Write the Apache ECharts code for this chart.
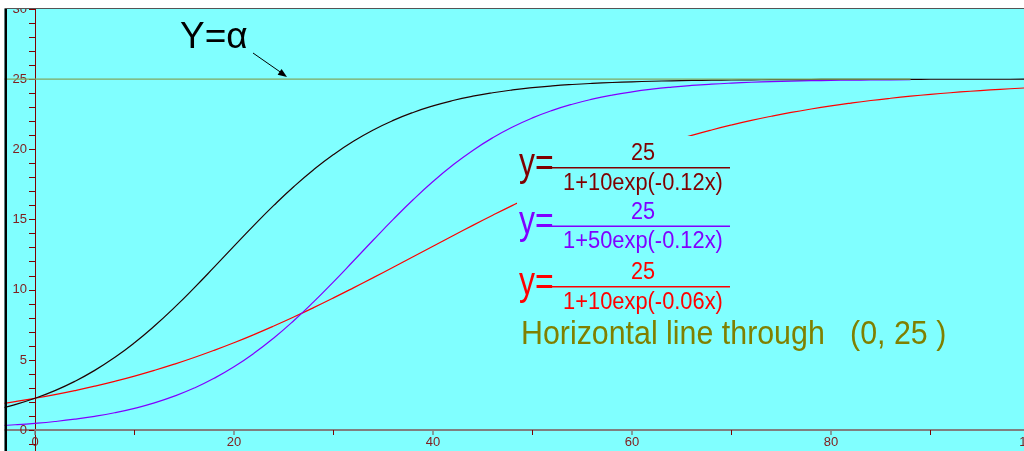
<!DOCTYPE html>
<html>
<head>
<meta charset="utf-8">
<script src="https://cdn.jsdelivr.net/npm/echarts@6/dist/echarts.min.js"></script>
<style>
html, body { margin: 0; padding: 0; background: #fff; }
#chart { width: 1024px; height: 451px; }
</style>
</head>
<body>
<div id="chart"></div>
<script>
// x positions of the sampled points
var xs = [-4, -2, 0, 2, 4, 6, 8, 10, 12, 14, 16, 18, 20, 22, 24, 26, 28, 30, 32, 34, 36, 38, 40,
  42, 44, 46, 48, 50, 52, 54, 56, 58, 60, 62, 64, 66, 68, 70, 72, 74, 76, 78, 80, 82, 84, 86, 88,
  90, 92, 94, 96, 98, 100];

// y = 25 / (1 + 10exp(-0.12x))
var blackCurve = [1.457, 1.823, 2.273, 2.820, 3.478, 4.261, 5.177, 6.231, 7.420, 8.730, 10.138,
  11.610, 13.108, 14.589, 16.012, 17.342, 18.555, 19.635, 20.577, 21.385, 22.065, 22.632, 23.099,
  23.480, 23.789, 24.037, 24.236, 24.395, 24.522, 24.622, 24.702, 24.765, 24.815, 24.854, 24.885,
  24.910, 24.929, 24.944, 24.956, 24.965, 24.973, 24.979, 24.983, 24.987, 24.990, 24.992, 24.994,
  24.995, 24.996, 24.997, 24.998, 24.998, 24.999];

// y = 25 / (1 + 50exp(-0.12x)), drawn up to x = 88
var purpleCurve = [0.306, 0.387, 0.490, 0.620, 0.783, 0.987, 1.241, 1.557, 1.946, 2.423, 3.001,
  3.695, 4.516, 5.473, 6.567, 7.794, 9.135, 10.566, 12.050, 13.547, 15.015, 16.414, 17.712,
  18.886, 19.927, 20.828, 21.597, 22.244, 22.779, 23.219, 23.577, 23.868, 24.100, 24.287, 24.435,
  24.554, 24.648, 24.722, 24.781, 24.827, 24.864, 24.893, 24.915, 24.933, 24.948, 24.959, 24.968];

// y = 25 / (1 + 10exp(-0.06x))
var redCurve = [1.823, 2.037, 2.273, 2.533, 2.820, 3.134, 3.478, 3.853, 4.261, 4.702, 5.177,
  5.687, 6.231, 6.809, 7.420, 8.061, 8.730, 9.423, 10.138, 10.868, 11.610, 12.359, 13.108,
  13.853, 14.589, 15.310, 16.012, 16.690, 17.342, 17.965, 18.555, 19.112, 19.635, 20.124, 20.577,
  20.998, 21.384, 21.739, 22.065, 22.361, 22.633, 22.877, 23.099, 23.299, 23.481, 23.643, 23.789,
  23.919, 24.036, 24.143, 24.236, 24.319, 24.395];

// horizontal line y = 25
var hLineX = [-4, 88];
var hLineY = [25, 25];

function pairs(xv, yv) {
  return yv.map(function (y, i) { return [xv[i], y]; });
}

var FONT = '"Liberation Sans", Arial, sans-serif';
var CYAN = '#80ffff';

var chart = echarts.init(document.getElementById('chart'), null, { renderer: 'canvas' });

function lineSeries(name, data, color, z) {
  return {
    name: name,
    type: 'line',
    data: data,
    showSymbol: false,
    symbol: 'none',
    smooth: true,
    z: z,
    lineStyle: { color: color, width: 1.2 }
  };
}

// one formula block: y= numerator / denominator
function formula(top, color, denom) {
  return [
    { type: 'text', z: 20, x: 519, y: top + 164.7, scaleX: 0.8, originX: 0, originY: 0,
      style: { text: 'y=', font: '40px ' + FONT, fill: color, verticalAlign: 'middle' } },
    { type: 'text', z: 20, x: 643, y: top + 153.5, scaleX: 0.9, originX: 0, originY: 0,
      style: { text: '25', font: '24px ' + FONT, fill: color, align: 'center', verticalAlign: 'middle' } },
    { type: 'line', z: 20, shape: { x1: 552, y1: top + 167.7, x2: 730, y2: top + 167.7 },
      style: { stroke: color, lineWidth: 1.5 } },
    { type: 'text', z: 20, x: 643, y: top + 183.2, scaleX: 0.93, originX: 0, originY: 0,
      style: { text: denom, font: '23.5px ' + FONT, fill: color, align: 'center', verticalAlign: 'middle' } }
  ];
}

var graphics = [
  // top white band and border
  { type: 'rect', z: 30, shape: { x: 0, y: 0, width: 1024, height: 8.5 }, style: { fill: '#fff' } },
  { type: 'line', z: 30, shape: { x1: 0, y1: 8.5, x2: 1024, y2: 8.5 }, style: { stroke: '#555', lineWidth: 1 } },
  // left white margin and black border
  { type: 'rect', z: 30, shape: { x: 0, y: 0, width: 4.5, height: 451 }, style: { fill: '#fff' } },
  { type: 'rect', z: 30, shape: { x: 4.5, y: 9, width: 2.5, height: 442 }, style: { fill: '#000' } },
  // panel behind the formulas hides part of the red curve
  { type: 'rect', z: 15, shape: { x: 517, y: 136, width: 230, height: 220 }, style: { fill: CYAN } },
  // Y = alpha label with arrow
  { type: 'text', z: 20, x: 180, y: 37.5,
    style: { text: 'Y=\u03b1', font: '37px ' + FONT, fill: '#000', verticalAlign: 'middle' } },
  { type: 'line', z: 20, shape: { x1: 253, y1: 53, x2: 281, y2: 72.5 }, style: { stroke: '#000', lineWidth: 1 } },
  { type: 'polygon', z: 20, shape: { points: [[277.6, 74.8], [281.6, 69.0], [287, 77]] }, style: { fill: '#000' } },
  // horizontal line caption
  { type: 'text', z: 20, x: 521, y: 335.3, scaleX: 0.92, originX: 0, originY: 0,
    style: { text: 'Horizontal line through   (0, 25 )', font: '33px ' + FONT, fill: '#808000', verticalAlign: 'middle' } }
];
graphics = graphics
  .concat(formula(0, '#800000', '1+10exp(-0.12x)'))
  .concat(formula(58.5, '#8000ff', '1+50exp(-0.12x)'))
  .concat(formula(119, '#ff0000', '1+10exp(-0.06x)'));

var option = {
  animation: false,
  backgroundColor: CYAN,
  textStyle: { fontFamily: FONT },
  grid: {
    left: -164, right: -6, top: 9, bottom: -49.4,
    containLabel: false,
    outerBoundsMode: 'none',
    show: false
  },
  xAxis: {
    type: 'value', min: -20, max: 100, interval: 20,
    position: 'bottom', offset: -70.4,
    axisLine: { onZero: false, lineStyle: { color: '#808080', width: 2 } },
    axisTick: { length: 5, lineStyle: { color: '#808080', width: 1.5 } },
    minorTick: { show: true, splitNumber: 2, length: 5, lineStyle: { color: '#800000', width: 1 } },
    axisLabel: {
      show: true, color: '#802020', fontSize: 13, margin: 6, fontFamily: FONT,
      formatter: function (v) { return v < 0 ? '' : String(v); }
    },
    splitLine: { show: false },
    minorSplitLine: { show: false }
  },
  yAxis: {
    type: 'value', min: -5, max: 30, interval: 5,
    position: 'left', offset: -199,
    axisLine: { onZero: false, lineStyle: { color: '#800000', width: 1 } },
    axisTick: { length: 6, lineStyle: { color: '#800000' } },
    minorTick: { show: true, splitNumber: 5, length: 6, lineStyle: { color: '#800000' } },
    axisLabel: {
      show: true, color: '#802020', fontSize: 13, margin: 8, fontFamily: FONT,
      formatter: function (v) { return v < 0 ? '' : String(v); }
    },
    splitLine: { show: false },
    minorSplitLine: { show: false }
  },
  series: [
    lineSeries('red', pairs(xs, redCurve), '#ff0000', 3),
    lineSeries('purple', pairs(xs, purpleCurve), '#8000ff', 4),
    lineSeries('black', pairs(xs, blackCurve), '#200000', 5),
    lineSeries('alpha', pairs(hLineX, hLineY), '#80a860', 6)
  ],
  graphic: { elements: graphics }
};

chart.setOption(option);
</script>
</body>
</html>
